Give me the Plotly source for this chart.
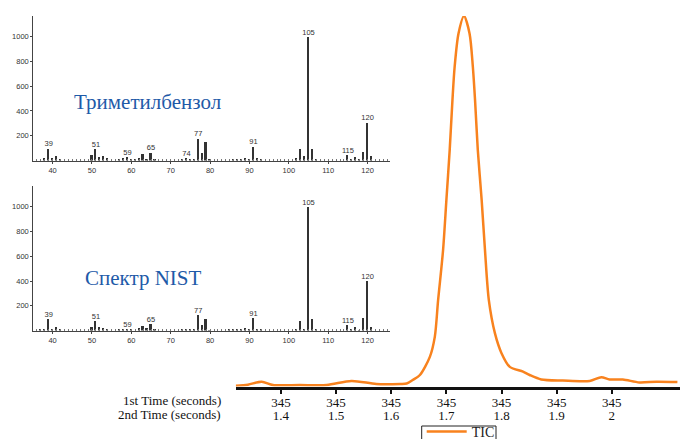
import plotly.graph_objects as go

# ---- TIC chromatogram (2nd-dimension time, s) / relative intensity ----
tic_time = [1.318, 1.340, 1.365, 1.3855, 1.434, 1.483, 1.528, 1.573, 1.616, 1.628,
            1.639, 1.652, 1.670, 1.679, 1.685, 1.694, 1.700, 1.706, 1.711, 1.715,
            1.722, 1.732, 1.742, 1.748, 1.752, 1.757, 1.764, 1.770, 1.777, 1.788,
            1.800, 1.815, 1.839, 1.851, 1.872, 1.911, 1.960, 1.981, 1.996, 2.020,
            2.050, 2.081, 2.119]
tic_int = [0.2, 0.5, 1.3, 0.4, 0.4, 0.4, 1.5, 0.7, 0.7, 0.8,
           1.75, 3.1, 8.0, 13.4, 23.3, 36.8, 50.3, 63.8, 77.3, 86.3,
           95.3, 100, 95.3, 86.3, 77.3, 63.8, 50.3, 36.8, 23.3, 14.4,
           9.0, 5.3, 4.0, 3.1, 1.9, 1.6, 1.5, 2.5, 1.9, 1.9,
           1.1, 1.3, 1.2]
tick_vals = [1.4, 1.5, 1.6, 1.7, 1.8, 1.9, 2.0]
tick_row1 = ["345", "345", "345", "345", "345", "345", "345"]
tick_row2 = ["1.4", "1.5", "1.6", "1.7", "1.8", "1.9", "2"]

# ---- measured spectrum (trimethylbenzene) ----
top_mz = [38, 39, 40, 41, 42, 50, 51, 52, 53, 54, 57, 58, 59, 60, 61, 62, 63, 64, 65, 66,
          73, 74, 75, 76, 77, 78, 79, 80, 86, 87, 88, 89, 90, 91, 92, 93, 102, 103, 104, 105,
          106, 107, 115, 116, 117, 118, 119, 120, 121]
top_int = [21, 99, 27, 38, 13, 48, 94, 32, 38, 27, 16, 27, 32, 16, 20, 27, 59, 16, 67, 16,
           10, 21, 16, 16, 180, 67, 150, 16, 10, 10, 10, 27, 16, 115, 27, 16, 21, 94, 38, 1000,
           94, 10, 48, 16, 32, 16, 75, 308, 38]
top_labels = [39, 51, 59, 65, 74, 77, 91, 105, 115, 120]

# ---- NIST library spectrum ----
nist_mz = [37, 38, 39, 40, 41, 42, 50, 51, 52, 53, 54, 57, 58, 59, 60, 62, 63, 64, 65, 66,
           73, 74, 75, 76, 77, 78, 79, 80, 85, 86, 87, 88, 89, 90, 91, 92, 93, 102, 103, 104,
           105, 106, 107, 115, 116, 117, 118, 119, 120, 121]
nist_int = [11, 16, 97, 11, 32, 11, 32, 81, 27, 22, 11, 11, 16, 16, 11, 22, 38, 22, 54, 11,
            11, 16, 16, 16, 124, 49, 97, 5, 11, 11, 11, 11, 22, 11, 103, 16, 11, 16, 81, 11,
            1000, 92, 11, 43, 11, 32, 5, 103, 400, 32]
nist_labels = [39, 51, 59, 65, 77, 91, 105, 115, 120]

spec_xticks = [40, 50, 60, 70, 80, 90, 100, 110, 120]
spec_yticks = [200, 400, 600, 800, 1000]

W, H = 682, 439
ORANGE = "#F8821E"
BLUE = "#1E5AA8"
SERIF = "Liberation Serif"
SANS = "Liberation Sans"

def px_x(p):
    return p / W

def px_y(p):
    return 1 - p / H

fig = go.Figure()

small = dict(family=SANS, size=7.5, color="#333333")

for mz, inten, labels, xa, ya in [(top_mz, top_int, top_labels, "x3", "y3"),
                                  (nist_mz, nist_int, nist_labels, "x4", "y4")]:
    fig.add_trace(go.Bar(x=mz, y=inten, xaxis=xa, yaxis=ya, width=0.45,
                         marker=dict(color="#333333", line=dict(width=0)),
                         showlegend=False, hoverinfo="skip"))
    fig.add_trace(go.Scatter(x=labels, y=[inten[mz.index(m)] for m in labels],
                             text=[str(m) for m in labels], mode="text",
                             textposition="top center", textfont=small,
                             xaxis=xa, yaxis=ya, showlegend=False,
                             cliponaxis=False, hoverinfo="skip"))

fig.add_trace(go.Scatter(x=tic_time, y=tic_int, mode="lines", name="TIC",
                         line=dict(color=ORANGE, width=2.5, shape="spline", smoothing=0.8),
                         xaxis="x", yaxis="y"))
# carriers for the two rows of tick labels
for xa in ["x2", "x5"]:
    fig.add_trace(go.Scatter(x=tic_time, y=tic_int, mode="lines", opacity=0,
                             line=dict(width=0), xaxis=xa, yaxis="y",
                             showlegend=False, hoverinfo="skip"))

xr = [1.3179, 2.1237]
tickfont = dict(family=SERIF, size=13, color="#111")

spec_x_common = dict(range=[35.1, 125.7], domain=[px_x(33.3), px_x(390)],
                     showline=True, linecolor="#444", linewidth=1,
                     ticks="outside", ticklen=2, tickcolor="#444",
                     tickvals=spec_xticks, tickfont=small,
                     showgrid=False, zeroline=False, fixedrange=True,
                     minor=dict(tickmode="linear", tick0=0, dtick=1, ticks="inside",
                                ticklen=2, tickcolor="#777"))
spec_y_common = dict(range=[0, 1170], showline=True, linecolor="#444", linewidth=1,
                     ticks="outside", ticklen=2, tickcolor="#444",
                     tickvals=spec_yticks, tickfont=small,
                     showgrid=False, zeroline=False, fixedrange=True)

fig.update_layout(
    width=W, height=H,
    margin=dict(l=0, r=0, t=0, b=0, autoexpand=False),
    paper_bgcolor="white", plot_bgcolor="rgba(0,0,0,0)",
    bargap=0,
    xaxis=dict(domain=[px_x(235.7), px_x(680)], range=xr, anchor="y",
               showline=True, linewidth=3, linecolor="#111",
               ticks="outside", ticklen=4, tickwidth=2, tickcolor="#111",
               tickvals=tick_vals, showticklabels=False,
               showgrid=False, zeroline=False),
    xaxis5=dict(overlaying="x", anchor="free", position=px_y(393), range=xr,
                showline=False, ticks="", tickvals=tick_vals, ticktext=tick_row1,
                tickfont=tickfont, showgrid=False, zeroline=False),
    xaxis2=dict(overlaying="x", anchor="free", position=px_y(405.5), range=xr,
                showline=False, ticks="", tickvals=tick_vals, ticktext=tick_row2,
                tickfont=tickfont, showgrid=False, zeroline=False),
    yaxis=dict(domain=[px_y(386.5), px_y(16)], range=[0, 100], visible=False),
    xaxis3=dict(anchor="y3", **spec_x_common),
    yaxis3=dict(anchor="x3", domain=[px_y(160.5), px_y(15.5)], **spec_y_common),
    xaxis4=dict(anchor="y4", **spec_x_common),
    yaxis4=dict(anchor="x4", domain=[px_y(330.5), px_y(185.8)], **spec_y_common),
    legend=dict(x=px_x(421.7), xanchor="left", y=px_y(416), yanchor="top",
                orientation="h", borderwidth=0, bgcolor="rgba(0,0,0,0)",
                font=dict(family=SERIF, size=14, color="#222"), itemwidth=40),
    shapes=[dict(type="rect", xref="paper", yref="paper",
                 x0=px_x(421.7), x1=px_x(496), y0=px_y(426), y1=px_y(450),
                 line=dict(color="#222", width=1), fillcolor="rgba(0,0,0,0)")],
    annotations=[
        dict(text="1st Time (seconds)", x=px_x(223.3), y=px_y(400.5), xref="paper", yref="paper",
             xanchor="right", yanchor="middle", showarrow=False, font=tickfont),
        dict(text="2nd Time (seconds)", x=px_x(223.3), y=px_y(414), xref="paper", yref="paper",
             xanchor="right", yanchor="middle", showarrow=False, font=tickfont),
        dict(text="Триметилбензол", x=px_x(147.5), y=px_y(101.5), xref="paper", yref="paper",
             xanchor="center", yanchor="middle", showarrow=False,
             font=dict(family=SERIF, size=21, color=BLUE)),
        dict(text="Спектр NIST", x=px_x(143.3), y=px_y(278), xref="paper", yref="paper",
             xanchor="center", yanchor="middle", showarrow=False,
             font=dict(family=SERIF, size=21, color=BLUE)),
    ],
)

fig.write_html("out.html")
